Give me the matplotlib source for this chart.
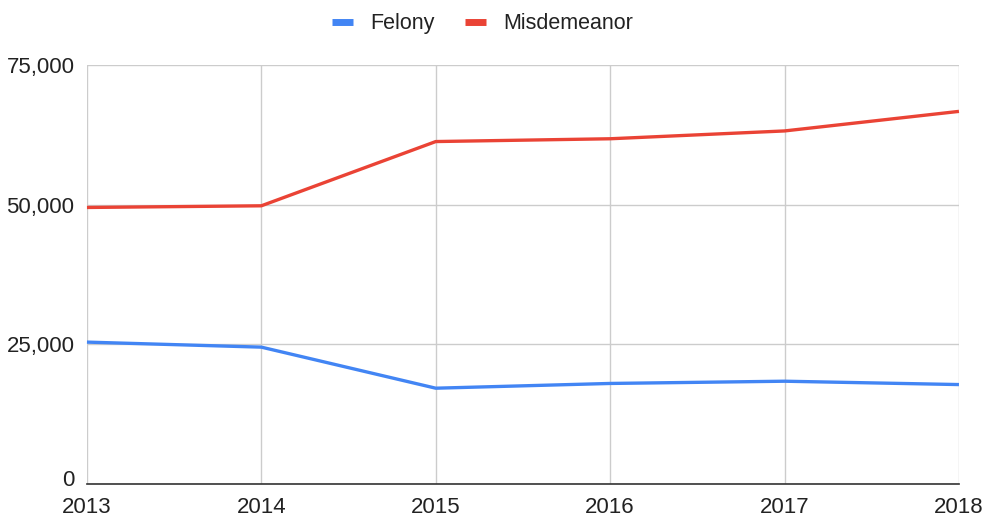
import matplotlib.pyplot as plt
import matplotlib.transforms as mtransforms
from matplotlib.ticker import FuncFormatter

# ---------------------------------------------------------------- #
' Data '

years = [2013, 2014, 2015, 2016, 2017, 2018]
felony = [25400, 24500, 17150, 18000, 18400, 17800]
misdemeanor = [49500, 49800, 61300, 61800, 63200, 66700]
y_ticks = [0, 25000, 50000, 75000]

# ---------------------------------------------------------------- #
' Plotting '

plt.rcParams['font.family'] = ['Liberation Sans', 'DejaVu Sans']

fig = plt.figure(figsize=(9.87, 5.16), dpi=100)
ax = fig.add_axes([0.0881, 0.062, 0.8835, 0.812])

ax.plot(years, felony, color='#4285F4', lw=2.4, label='Felony',
        solid_capstyle='butt', zorder=3, clip_on=False)
ax.plot(years, misdemeanor, color='#EA4335', lw=2.4, label='Misdemeanor',
        solid_capstyle='butt', zorder=3, clip_on=False)

ax.set_xlim(years[0], years[-1])
ax.set_ylim(0, 75000)
ax.set_xticks(years)
ax.set_yticks(y_ticks)
ax.yaxis.set_major_formatter(FuncFormatter(lambda v, p: f'{int(v):,}'))

ax.grid(True, color='#cccccc', lw=1)
ax.set_axisbelow(True)
for s in ['top', 'left', 'right']:
    ax.spines[s].set_visible(False)
ax.spines['bottom'].set_color('#333333')
ax.spines['bottom'].set_linewidth(1.2)
ax.spines['bottom'].set_zorder(4)

ax.tick_params(axis='both', length=0, labelsize=16, labelcolor='#222222')
ax.tick_params(axis='x', pad=9)
ax.tick_params(axis='y', pad=9)
# lift the "0" label a few pixels so it clears the year label below it
zero = ax.get_yticklabels()[0]
zero.set_transform(zero.get_transform() +
                   mtransforms.ScaledTranslation(0, 4 / 72, fig.dpi_scale_trans))

leg = fig.legend(loc='upper center', bbox_to_anchor=(0.489, 1.012), ncol=2,
                 frameon=False, fontsize=15.5, handlelength=1.0,
                 handletextpad=0.8, columnspacing=1.4)
for h in leg.get_lines():
    h.set_linewidth(5)
for t in leg.get_texts():
    t.set_color('#222222')

fig.savefig('out.png', dpi=100, facecolor='white')
